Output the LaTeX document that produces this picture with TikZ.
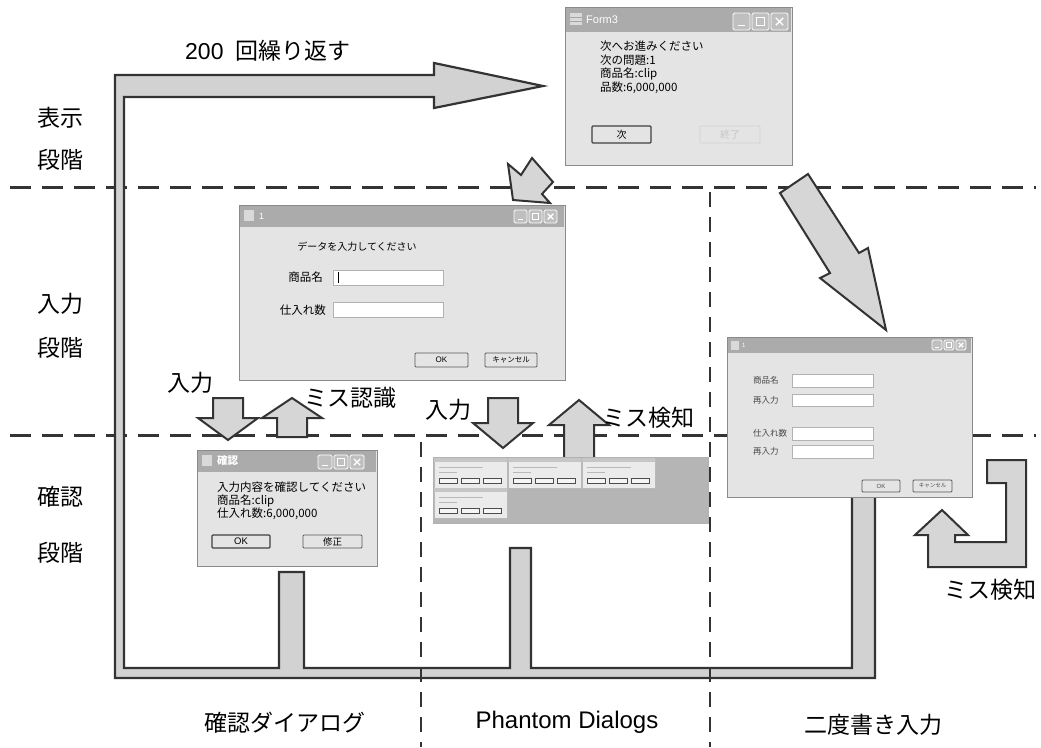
\documentclass[tikz,border=0pt]{standalone}
\usepackage{fontspec}
\setmainfont{Noto Sans CJK JP}
\newfontfamily\lib{Liberation Sans}
\definecolor{linedark}{HTML}{333333}
\definecolor{bandgray}{HTML}{D2D2D2}
\definecolor{arrowgray}{HTML}{D6D6D6}
\definecolor{winbody}{HTML}{E4E4E4}
\definecolor{winborder}{HTML}{8A8A8A}
\definecolor{titlegray}{HTML}{ABABAB}
\tikzset{
  band/.style={fill=bandgray, draw=linedark, line width=2.2pt, line join=miter},
  blk/.style={fill=arrowgray, draw=linedark, line width=2pt, line join=miter},
  hdash/.style={draw=linedark, line width=3pt, dash pattern=on 21pt off 11pt},
  vdash/.style={draw=linedark, line width=2.6pt, dash pattern=on 15pt off 10pt},
  win/.style={fill=winbody, draw=winborder, line width=1.3pt, inner sep=0pt},
  tbar/.style={fill=titlegray},
  tbbtn/.style={fill=gray!50, draw=white, line width=0.8pt, rounded corners=1.5pt},
  btnbox/.style={draw=gray!70!black, fill=winbody, line width=0.8pt, rounded corners=1pt},
  tbox/.style={draw=gray!60, fill=white, line width=0.6pt},
  lbl/.style={font=\fontsize{23}{27}\selectfont, inner sep=0pt, text=black},
}
\newcommand{\mywinctrls}[3]{%
  \foreach \k in {0,1,2}{\draw[tbbtn] ({#1+\k*(#3+2)},#2) rectangle ++(#3,#3);}
  \draw[white, line width=1.4pt] ({#1+0.3*#3},{#2+0.75*#3}) -- ++({0.38*#3},0);
  \draw[white, line width=1pt] ({#1+#3+2+0.25*#3},{#2+0.25*#3}) rectangle ++({0.5*#3},{0.5*#3});
  \draw[white, line width=1.4pt] ({#1+2*#3+4+0.28*#3},{#2+0.28*#3}) -- ++({0.44*#3},{0.44*#3})
        ({#1+2*#3+4+0.72*#3},{#2+0.28*#3}) -- ++({-0.44*#3},{0.44*#3});
}
\newcommand{\myminiwin}[2]{%
  \fill[gray!16] (#1,#2) rectangle ++(73,30);
  \draw[gray!55, line width=0.5pt] (#1,#2) rectangle ++(73,30);
  \fill[gray!45] (#1,#2) rectangle ++(73,4);
  \draw[gray!55, line width=0.7pt] ({#1+5},{#2+9}) -- ++(44,0) ({#1+5},{#2+14}) -- ++(18,0);
  \foreach \k in {0,1,2}{\draw[gray!60!black, line width=0.5pt, fill=gray!8] ({#1+5+\k*22},{#2+20}) rectangle ++(18,5);}
}
\begin{document}
\begin{tikzpicture}[x=1pt,y=-1pt]
\useasboundingbox (0,0) rectangle (1041,747);
\fill[white] (0,0) rectangle (1041,747);

% horizontal stage separators
\draw[hdash] (10,187) -- (1036,187);
\draw[hdash] (10,435) -- (1036,435);

% loop band (repeat 200 times)
\draw[band] (115,678) -- (115,75) -- (434,75) -- (434,63) -- (543,86) -- (434,108) -- (434,97)
  -- (124,97) -- (124,668) -- (279,668) -- (279,572) -- (304,572) -- (304,668)
  -- (510,668) -- (510,548) -- (531,548) -- (531,668) -- (852,668) -- (852,490)
  -- (875,490) -- (875,678) -- cycle;

% vertical column separators
\draw[vdash] (421,442) -- (421,747);
\draw[vdash] (710,192) -- (710,747);

% block arrows
\draw[blk] (532,158) -- (553,182) -- (542,194) -- (550,203) -- (513,200) -- (508,164) -- (521,175) -- cycle;
\draw[blk] (808,174) -- (780,193) -- (830,273) -- (820,278) -- (886,330) -- (868,248) -- (859,253) -- cycle;
\draw[blk] (213,398) -- (243,398) -- (243,418) -- (258,418) -- (228,440) -- (198,418) -- (213,418) -- cycle;
\draw[blk] (277,437) -- (307,437) -- (307,418) -- (322,418) -- (292,398) -- (262,418) -- (277,418) -- cycle;
\draw[blk] (488,398) -- (518,398) -- (518,423) -- (533,423) -- (503,448) -- (473,423) -- (488,423) -- cycle;
\draw[blk] (564,460) -- (594,460) -- (594,425) -- (609,425) -- (579,400) -- (549,425) -- (564,425) -- cycle;
\draw[blk] (987,460) -- (1026,460) -- (1026,567) -- (928,567) -- (928,535) -- (915,535) -- (942,510)
  -- (968,535) -- (955,535) -- (955,542) -- (1006,542) -- (1006,483) -- (987,483) -- cycle;

% ---- Form3 window
\node[win, anchor=north west, minimum width=227pt, minimum height=158pt] (form3) at (565,7) {};
\fill[tbar] (566,8) rectangle (791,32);
\fill[gray!30] (570,13) rectangle (582,25);
\draw[gray!70, line width=0.5pt] (570,17) -- (582,17) (570,21) -- (582,21);
\node[anchor=west, text=white, inner sep=0pt, font=\lib\fontsize{11}{11}\selectfont] (form3title) at (586,20) {Form3};
\mywinctrls{733}{13}{17}
\node[anchor=north west, inner sep=0pt, align=left, font=\fontsize{11.5}{13.5}\selectfont] (form3text) at (600,41)
  {次へお進みください\\次の問題:1\\商品名:clip\\品数:6,000,000};
\node[btnbox, draw=black!75, line width=1.2pt, minimum width=59pt, minimum height=17pt, inner sep=0pt, font=\fontsize{10}{10}\selectfont] (nextbtn) at (621.5,134.5) {次};
\node[btnbox, draw=gray!35, minimum width=60pt, minimum height=17pt, inner sep=0pt, text=gray!45, font=\fontsize{10}{10}\selectfont] (endbtn) at (730,134.5) {終了};

% ---- input dialog "1"
\node[win, anchor=north west, minimum width=326pt, minimum height=175pt] (dlg1) at (239,205) {};
\fill[tbar] (240,206) rectangle (564,227);
\fill[gray!30] (244,210) rectangle (254,221);
\node[anchor=west, text=white, inner sep=0pt, font=\lib\fontsize{9}{9}\selectfont] (dlg1title) at (259,216) {1};
\mywinctrls{514}{210}{13}
\node[inner sep=0pt, font=\fontsize{10}{10}\selectfont] (dlg1head) at (357,247) {データを入力してください};
\node[anchor=east, inner sep=0pt, font=\fontsize{11.5}{11.5}\selectfont] (lblname) at (323,277) {商品名};
\node[tbox, anchor=north west, minimum width=110pt, minimum height=15pt] (boxname) at (333,270) {};
\draw[black, line width=0.8pt] (338,272) -- (338,283);
\node[anchor=east, inner sep=0pt, font=\fontsize{11.5}{11.5}\selectfont] (lblnum) at (326,310) {仕入れ数};
\node[tbox, anchor=north west, minimum width=110pt, minimum height=15pt] (boxnum) at (333,302) {};
\node[btnbox, minimum width=53pt, minimum height=14pt, inner sep=0pt, font=\lib\fontsize{8}{8}\selectfont] (okbtn1) at (441.5,360) {OK};
\node[btnbox, minimum width=52pt, minimum height=14pt, inner sep=0pt, font=\fontsize{7.5}{8}\selectfont] (cancel1) at (511,360) {キャンセル};

% ---- confirmation dialog
\node[win, anchor=north west, minimum width=180pt, minimum height=116pt] (conf) at (197,450) {};
\fill[tbar] (198,451) rectangle (376,472);
\fill[gray!30] (202,455) rectangle (212,466);
\node[anchor=west, text=white, inner sep=0pt, font=\fontsize{10.5}{10.5}\selectfont\bfseries] (conftitle) at (217,461) {確認};
\mywinctrls{318}{455}{14}
\node[anchor=north west, inner sep=0pt, align=left, font=\fontsize{11.5}{13}\selectfont] (conftext) at (217,482)
  {入力内容を確認してください\\商品名:clip\\仕入れ数:6,000,000};
\node[btnbox, draw=black!75, line width=1.1pt, minimum width=58pt, minimum height=13pt, inner sep=0pt, font=\lib\fontsize{9.5}{9.5}\selectfont] (okconf) at (241,541.5) {OK};
\node[btnbox, minimum width=59pt, minimum height=13pt, inner sep=0pt, font=\fontsize{9.5}{9.5}\selectfont] (fixconf) at (332.5,541.5) {修正};

% ---- phantom dialogs screenshot
\node[fill=gray!58, draw=gray!60, line width=0.5pt, anchor=north west, minimum width=275pt, minimum height=66pt, inner sep=0pt] (phantom) at (433,457) {};
\myminiwin{434}{458}
\myminiwin{508}{458}
\myminiwin{582}{458}
\myminiwin{434}{488}

% ---- double-entry dialog
\node[win, anchor=north west, minimum width=245pt, minimum height=160pt] (dbl) at (727,337) {};
\fill[tbar] (728,338) rectangle (971,353);
\fill[gray!30] (731,341) rectangle (739,350);
\node[anchor=west, text=white, inner sep=0pt, font=\lib\fontsize{6}{6}\selectfont] (dbltitle) at (742,345.5) {1};
\mywinctrls{932}{340}{10}
\node[anchor=west, inner sep=0pt, text=gray!55!black, font=\fontsize{8.5}{8.5}\selectfont] (dl1) at (753,380) {商品名};
\node[tbox, anchor=north west, minimum width=81pt, minimum height=13pt] (db1) at (792,374) {};
\node[anchor=west, inner sep=0pt, text=gray!55!black, font=\fontsize{8.5}{8.5}\selectfont] (dl2) at (753,400) {再入力};
\node[tbox, anchor=north west, minimum width=81pt, minimum height=12pt] (db2) at (792,394) {};
\node[anchor=west, inner sep=0pt, text=gray!55!black, font=\fontsize{8.5}{8.5}\selectfont] (dl3) at (753,433) {仕入れ数};
\node[tbox, anchor=north west, minimum width=81pt, minimum height=13pt] (db3) at (792,427) {};
\node[anchor=west, inner sep=0pt, text=gray!55!black, font=\fontsize{8.5}{8.5}\selectfont] (dl4) at (753,451) {再入力};
\node[tbox, anchor=north west, minimum width=81pt, minimum height=13pt] (db4) at (792,445) {};
\node[btnbox, minimum width=38pt, minimum height=12pt, inner sep=0pt, text=gray!60!black, font=\lib\fontsize{6}{6}\selectfont] (okdbl) at (881,486) {OK};
\node[btnbox, minimum width=39pt, minimum height=12pt, inner sep=0pt, text=gray!60!black, font=\fontsize{5.5}{6}\selectfont] (canceldbl) at (932.5,486) {キャンセル};

% ---- stage labels
\node[lbl] (s1a) at (60,118) {表示};
\node[lbl] (s1b) at (60,160) {段階};
\node[lbl] (s2a) at (60,304) {入力};
\node[lbl] (s2b) at (60,348) {段階};
\node[lbl] (s3a) at (60,497) {確認};
\node[lbl] (s3b) at (60,553) {段階};

% ---- arrow labels
\node[lbl, anchor=west] (rep) at (185,51) {{\lib 200}\hspace{12pt}回繰り返す};
\node[lbl] (in1) at (190,383) {入力};
\node[lbl] (miss1) at (350,398) {ミス認識};
\node[lbl] (in2) at (448,410) {入力};
\node[lbl] (miss2) at (648,418) {ミス検知};
\node[lbl] (miss3) at (990,590) {ミス検知};

% ---- column labels
\node[lbl] (c1) at (285,723) {確認ダイアログ};
\node[lbl, font=\lib\fontsize{24}{27}\selectfont] (c2) at (567,722) {Phantom Dialogs};
\node[lbl] (c3) at (873,725) {二度書き入力};
\end{tikzpicture}
\end{document}
